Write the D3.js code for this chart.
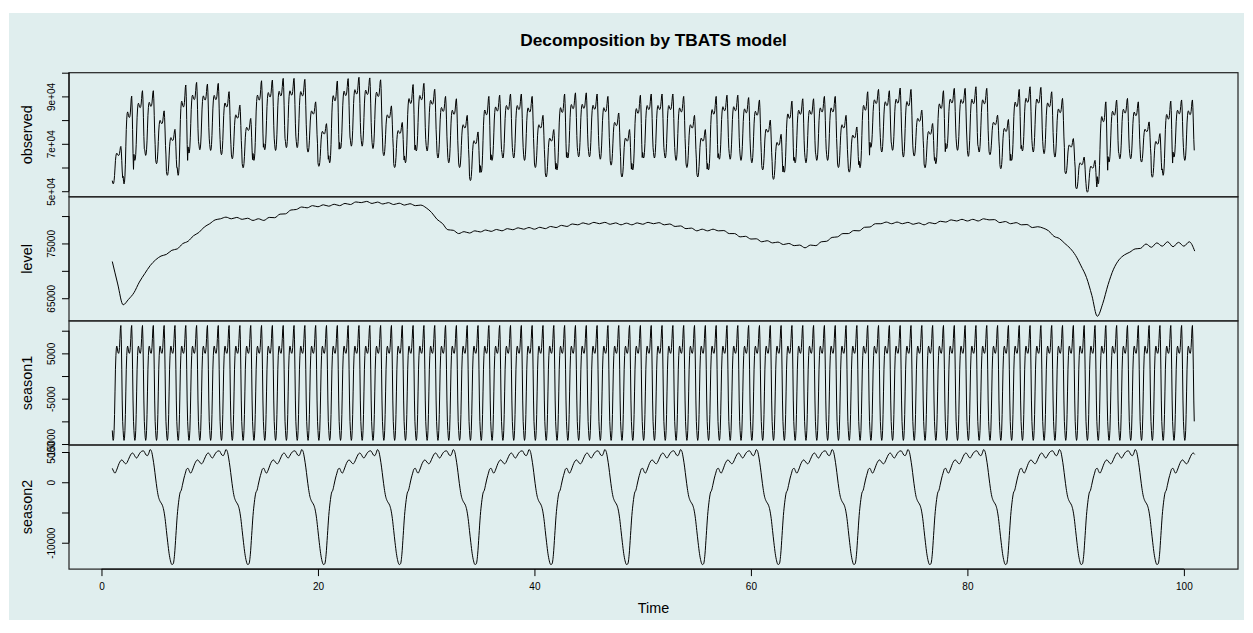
<!DOCTYPE html>
<html>
<head>
<meta charset="utf-8">
<script src="https://cdn.jsdelivr.net/npm/d3@7"></script>
<style>
  body { margin: 0; background: #ffffff; }
  text { font-family: "Liberation Sans", Arial, Helvetica, sans-serif; fill: #000; }
</style>
</head>
<body>
<div id="chart"></div>
<script>
// observed series: morning trough and evening peak of each day (days 1..100)
var obsLow = [
  53100, 53100, 63000, 65100, 61600, 56700, 56700, 66100, 67500, 67200,
  65400, 63700, 59900, 63000, 67500, 67200, 68400, 68400, 66500, 60500,
  62000, 68000, 69000, 69000, 68000, 65000, 60000, 62000, 67000, 67000,
  64000, 62000, 60000, 54500, 58000, 63000, 64000, 64000, 63000, 60000,
  56000, 59000, 64000, 64500, 64500, 63500, 61000, 56000, 59000, 64000,
  64000, 64000, 63000, 60000, 56000, 59000, 63500, 63500, 63000, 62000,
  59000, 55000, 58000, 62000, 62000, 63000, 63000, 60000, 58050, 59900,
  68500, 66530, 67250, 64400, 64830, 59900, 61600, 67970, 67250, 64700,
  66530, 65400, 59500, 63000, 66970, 66530, 65850, 64400, 57370, 51000,
  49580, 53130, 62300, 63700, 63700, 62300, 55900, 56700, 64400, 63000
];
var obsHigh = [
  68900, 90100, 92400, 92400, 83900, 76100, 94800, 95900, 95200, 95500,
  92000, 86300, 80700, 96600, 96900, 97600, 97600, 97200, 87700, 78500,
  96500, 97500, 98060, 97800, 97000, 86000, 79000, 95000, 95500, 93000,
  90000, 89000, 82000, 75000, 90000, 90500, 91000, 91000, 90000, 82000,
  76000, 91000, 91500, 91500, 91000, 90000, 83000, 76000, 90500, 91000,
  91000, 91000, 90000, 82000, 76000, 90000, 90500, 90500, 89500, 88500,
  80000, 74000, 88000, 89000, 89000, 90000, 90000, 82000, 77100, 91950,
  92950, 92380, 93520, 92950, 84200, 78550, 92380, 93390, 93390, 94070,
  93390, 82080, 80250, 92950, 94070, 93800, 91950, 89150, 72200, 64400,
  63000, 87700, 88430, 89150, 87700, 79240, 74300, 88000, 88500, 88500
];

// level at t = 1, 2, ..., 101 (daily lows of the small wiggle)
var levelValues = [
  71700, 63800, 66000, 69500, 72000, 73000, 74000, 75400, 77000, 78600,
  79500, 79500, 79400, 79200, 79200, 79700, 80400, 81200, 81500, 81700,
  81800, 81900, 82100, 82450, 82300, 82200, 82100, 82000, 81900, 81500,
  79400, 77500, 76800, 76900, 77100, 77200, 77300, 77500, 77600, 77600,
  77700, 77900, 78100, 78400, 78500, 78600, 78500, 78400, 78400, 78500,
  78600, 78400, 78100, 77700, 77300, 77300, 77300, 76800, 76200, 75800,
  75300, 75100, 74800, 74600, 74200, 74600, 75400, 76200, 76800, 77300,
  78000, 78600, 78600, 78600, 78500, 78400, 78600, 78900, 79100, 79100,
  79100, 79300, 78800, 78600, 78400, 77900, 77800, 76300, 75000, 72800,
  68800, 61700, 67500, 72000, 73400, 74100, 74300, 74500, 74400, 74500,
  73600
];
// level at t = 1.5, 2.5, ..., 100.5 (daily highs of the wiggle)
var levelMid = [
  67600, 64800, 67950, 70950, 72700, 73750, 74950, 76400, 78000, 79300,
  79800, 79750, 79600, 79500, 79750, 80350, 81100, 81650, 81900, 82050,
  82150, 82300, 82575, 82675, 82550, 82450, 82350, 82250, 82000, 80650,
  78650, 77400, 77150, 77300, 77450, 77550, 77700, 77850, 77900, 77950,
  78100, 78300, 78550, 78750, 78850, 78850, 78750, 78700, 78750, 78850,
  78800, 78550, 78200, 77800, 77600, 77600, 77350, 76800, 76300, 75850,
  75500, 75250, 75000, 74700, 74700, 75300, 76100, 76800, 77350, 77950,
  78600, 78900, 78900, 78850, 78750, 78800, 79050, 79300, 79400, 79400,
  79500, 79350, 79000, 78800, 78450, 78050, 77300, 75900, 74100, 70900,
  65500, 64000, 70300, 72900, 74000, 74900, 75100, 75300, 75200, 75300
];

// season1: daily profile, hour 0..23
var season1Profile = [
  -12000, -13600, -14200, -13800, -12000, -8500, -3500, 1500, 4500, 6200,
  6600, 6200, 5500, 5100, 5000, 5300, 6300, 8300, 10500, 11150,
  8000, 1500, -5500, -10000
];

// season2: weekly profile every 3 hours, from t mod 7 = 0
var season2Profile = [
  -5500, -3300, -1800, -1300, -300, 700, 1500, 2200,
  2300, 1800, 1500, 1900, 2500, 3100, 3500, 3700,
  3500, 3200, 3050, 3300, 3800, 4300, 4700, 4830,
  4600, 4200, 4000, 4300, 4700, 5000, 5150, 5200,
  4900, 4500, 4400, 4800, 5400, 5100, 4000, 2500,
  700, -1000, -2300, -3000, -3400, -3800, -4600, -6000,
  -8000, -10000, -11800, -13000, -13600, -13500, -12000, -8800
];

var panelNames = ["observed", "level", "season1", "season2"];
var panelTicks = [
  [50000, 60000, 70000, 80000, 90000, 100000],
  [65000, 70000, 75000, 80000],
  [-15000, -10000, -5000, 0, 5000, 10000],
  [-10000, -5000, 0, 5000]
];
var panelTickLabels = [
  ["5e+04", "", "7e+04", "", "9e+04", ""],
  ["65000", "", "75000", ""],
  ["-15000", "", "-5000", "", "5000", ""],
  ["-10000", "", "0", "5000"]
];
var timeTicks = [0, 20, 40, 60, 80, 100];

function createDecompositionChart() {
  var width = 1253,
    height = 633;
  var plotLeft = 69,
    plotRight = 1238,
    plotTop = 72.7,
    panelHeight = 124.1;

  var svg = d3
    .select("#chart")
    .append("svg")
    .attr("width", width)
    .attr("height", height);

  svg
    .append("rect")
    .attr("x", 9)
    .attr("y", 13)
    .attr("width", 1235)
    .attr("height", 607)
    .attr("fill", "#e0eeee");

  var xScale = d3.scaleLinear().domain([-3, 105]).range([plotLeft, plotRight]);

  var series = [buildObserved(), buildLevel(), buildSeason1(), buildSeason2()];
  var curves = [d3.curveLinear, d3.curveMonotoneX, d3.curveLinear, d3.curveMonotoneX];

  series.forEach(function (points, i) {
    drawPanel(i, points);
  });
  drawTimeAxis();

  svg
    .append("text")
    .attr("x", (plotLeft + plotRight) / 2)
    .attr("y", 46)
    .attr("text-anchor", "middle")
    .attr("font-size", "17.3px")
    .attr("font-weight", "bold")
    .text("Decomposition by TBATS model");

  function buildObserved() {
    var lo = d3.min(season1Profile),
      hi = d3.max(season1Profile);
    var points = [];
    obsLow.forEach(function (low, d) {
      var high = obsHigh[d];
      season1Profile.forEach(function (s, h) {
        var shape = (s - lo) / (hi - lo);
        points.push({ t: 1 + d + h / 24, v: low + (high - low) * shape });
      });
    });
    return points;
  }

  function buildLevel() {
    var points = [];
    levelValues.forEach(function (v, i) {
      points.push({ t: 1 + i, v: v });
      if (i < levelMid.length) {
        points.push({ t: 1.5 + i, v: levelMid[i] });
      }
    });
    return points;
  }

  function buildSeason1() {
    var points = [];
    obsLow.forEach(function (low, d) {
      season1Profile.forEach(function (s, h) {
        points.push({ t: 1 + d + h / 24, v: s });
      });
    });
    return points;
  }

  function buildSeason2() {
    var steps = season2Profile.length / 7;
    var points = [];
    for (var k = 0; k <= 100 * steps; k++) {
      var t = 1 + k / steps;
      var idx = Math.round((t % 7) * steps) % season2Profile.length;
      points.push({ t: t, v: season2Profile[idx] });
    }
    return points;
  }

  function drawPanel(i, points) {
    var top = plotTop + i * panelHeight;
    var extent = d3.extent(points, function (d) {
      return d.v;
    });
    var pad = (extent[1] - extent[0]) * 0.04;
    var yScale = d3
      .scaleLinear()
      .domain([extent[0] - pad, extent[1] + pad])
      .range([top + panelHeight, top]);

    var g = svg.append("g").attr("class", "panel-" + i);

    g.append("path")
      .datum(points)
      .attr("fill", "none")
      .attr("stroke", "#000")
      .attr("stroke-width", 1)
      .attr(
        "d",
        d3
          .line()
          .curve(curves[i])
          .x(function (d) {
            return xScale(d.t);
          })
          .y(function (d) {
            return yScale(d.v);
          })
      );

    g.append("rect")
      .attr("x", plotLeft)
      .attr("y", top)
      .attr("width", plotRight - plotLeft)
      .attr("height", panelHeight)
      .attr("fill", "none")
      .attr("stroke", "#222")
      .attr("stroke-width", 1.2);

    // ticks outside the visible range are dropped, as R does
    var domain = yScale.domain();
    var ticks = panelTicks[i].filter(function (v) {
      return v >= domain[0] - 1 && v <= domain[1] + 600;
    });
    var labels = {};
    panelTicks[i].forEach(function (v, j) {
      labels[v] = panelTickLabels[i][j];
    });

    var axis = d3
      .axisLeft(yScale)
      .tickValues(ticks)
      .tickSize(7)
      .tickFormat(function (v) {
        return labels[v];
      });
    var axisG = g
      .append("g")
      .attr("transform", "translate(" + plotLeft + ",0)")
      .call(axis);
    axisG.select(".domain").remove();
    axisG.selectAll(".tick line").attr("stroke", "#000");
    axisG
      .selectAll(".tick text")
      .attr("x", 0)
      .attr("dy", "0.35em")
      .attr("text-anchor", "middle")
      .attr("font-size", "10px")
      .attr("font-family", null)
      .attr("transform", "translate(-17.3,0) rotate(-90)");
    axisG
      .append("line")
      .attr("x1", 0)
      .attr("x2", 0)
      .attr("y1", yScale(d3.min(ticks)))
      .attr("y2", yScale(d3.max(ticks)))
      .attr("stroke", "#000");

    g.append("text")
      .attr("text-anchor", "middle")
      .attr("dy", "0.35em")
      .attr("font-size", "14.4px")
      .attr("transform", "translate(26.7," + (top + panelHeight / 2) + ") rotate(-90)")
      .text(panelNames[i]);
  }

  function drawTimeAxis() {
    var bottom = plotTop + 4 * panelHeight;
    var axis = d3.axisBottom(xScale).tickValues(timeTicks).tickSize(7).tickPadding(7);
    var axisG = svg
      .append("g")
      .attr("transform", "translate(0," + bottom + ")")
      .call(axis);
    axisG.select(".domain").remove();
    axisG
      .selectAll(".tick text")
      .attr("font-size", "10px")
      .attr("font-family", null);
    axisG
      .append("line")
      .attr("x1", xScale(d3.min(timeTicks)))
      .attr("x2", xScale(d3.max(timeTicks)))
      .attr("stroke", "#000");

    svg
      .append("text")
      .attr("x", (plotLeft + plotRight) / 2)
      .attr("y", bottom + 43.5)
      .attr("text-anchor", "middle")
      .attr("font-size", "14.4px")
      .text("Time");
  }
}

createDecompositionChart();
</script>
</body>
</html>
